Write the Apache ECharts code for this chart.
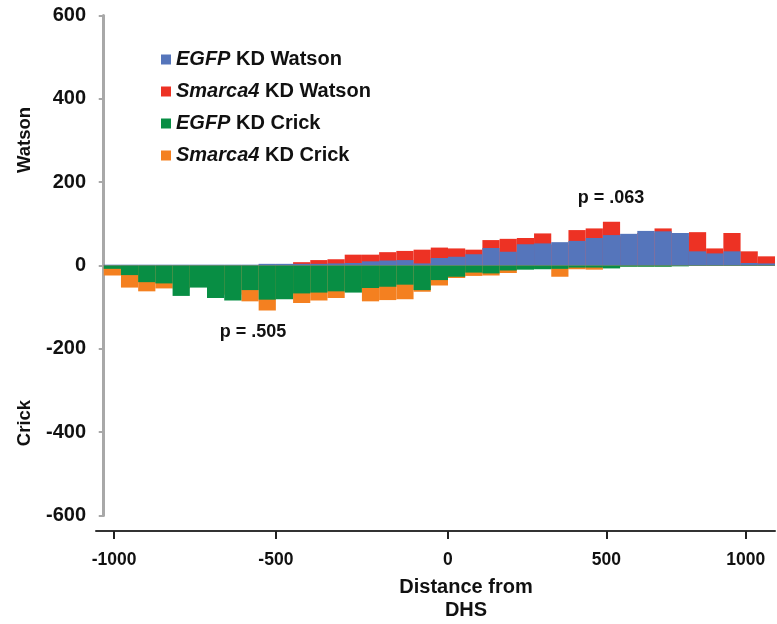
<!DOCTYPE html>
<html><head><meta charset="utf-8">
<script src="https://cdn.jsdelivr.net/npm/echarts@6/dist/echarts.min.js"></script>
<style>html,body{margin:0;padding:0;background:#fff}#c{width:777px;height:624px}</style>
</head><body><div id="c"></div>
<script>
// Bin index (0..38) along the distance axis; values per bin
const egfpWatson   = [2,2,2,2,2,2,2,2,2,4,4,4,4,5,6,10,12,13,5,18,21,27,42,33,51,53,56,59,66,73,76,83,82,78,34,29,34,6,5];
const smarcaWatson = [1,1,1,1,1,1,1,1,1,3,3,8,13,15,26,26,32,35,38,43,41,38,61,64,66,77,50,85,89,105,70,78,89,70,80,41,78,34,22];
const egfpCrick    = [-8,-23,-40,-43,-73,-53,-78,-84,-59,-82,-81,-67,-65,-62,-65,-54,-51,-46,-59,-35,-27,-17,-19,-12,-10,-9,-8,-5,-5,-7,-3,-3,-3,-2,-1,-1,-1,-1,-1];
const smarcaCrick  = [-24,-53,-62,-55,-55,-45,-60,-70,-86,-108,-70,-90,-84,-78,-55,-86,-83,-81,-63,-48,-30,-25,-24,-18,-7,-6,-27,-9,-10,-5,-2,-2,-2,-1,-1,-1,-1,-1,-1];

const seriesNames = ['EGFP KD Watson','Smarca4 KD Watson','EGFP KD Crick','Smarca4 KD Crick'];
const geneNames   = ['EGFP','Smarca4','EGFP','Smarca4'];
const xTickPos    = [0.6, 10, 20, 29.2, 37.3];
const xTickLabels = ['-1000','-500','0','500','1000'];
const yMin = -600, yMax = 600, yStep = 200;
const pLabels = ['p = .063','p = .505'];

const FONT = '"Liberation Sans", Arial, Helvetica, sans-serif';
const colors = ['#5575bb','#ed3224','#088e44','#f48020'];

const toData = arr => arr.map((v,i)=>[i+0.5, v]);
const allVals = [egfpWatson, smarcaWatson, egfpCrick, smarcaCrick];
const zOrder = [3,2,3,2];

const chart = echarts.init(document.getElementById('c'), null, {renderer:'canvas'});
chart.setOption({
  animation:false,
  backgroundColor:'#fff',
  color: colors,
  grid:{left:96, right:2, top:15.5, bottom:108.5, containLabel:false},
  legend:{
    orient:'vertical', left:161, top:48.5, padding:0,
    itemWidth:10, itemHeight:10, itemGap:10, icon:'rect',
    selectedMode:false,
    data: seriesNames,
    formatter: name => {
      const i = seriesNames.indexOf(name);
      const g = geneNames[i];
      return '{i|' + g + '}{n|' + name.slice(g.length) + '}';
    },
    textStyle:{
      fontFamily:FONT, fontWeight:'bold', fontSize:20, color:'#111', lineHeight:22,
      rich:{
        i:{fontFamily:FONT, fontWeight:'bold', fontStyle:'italic', fontSize:20, color:'#111', lineHeight:22},
        n:{fontFamily:FONT, fontWeight:'bold', fontSize:20, color:'#111', lineHeight:22}
      }
    }
  },
  xAxis:{
    type:'value', min:-0.45, max:39, offset:15.5,
    splitLine:{show:false},
    axisLine:{show:true, onZero:false, lineStyle:{color:'#333', width:2}},
    axisTick:{show:true, customValues:xTickPos, length:8, lineStyle:{color:'#222', width:2}},
    axisLabel:{
      customValues:xTickPos, margin:20,
      formatter: v => { const k = xTickPos.indexOf(v); return k>=0 ? xTickLabels[k] : ''; },
      fontFamily:FONT, fontWeight:'bold', fontSize:17.5, color:'#111'
    }
  },
  yAxis:{
    type:'value', min:yMin, max:yMax, interval:yStep,
    splitLine:{show:false},
    axisLine:{show:true, onZero:true, lineStyle:{color:'#a8a8a8', width:3}},
    axisTick:{show:true, length:5, lineStyle:{color:'#a8a8a8', width:2}},
    axisLabel:{margin:10, fontFamily:FONT, fontWeight:'bold', fontSize:20, color:'#111'}
  },
  graphic:[
    {type:'text', x:25, y:140, rotation:Math.PI/2, silent:true,
     style:{text:'Watson', font:'bold 18.5px '+FONT, fill:'#111', textAlign:'center', textVerticalAlign:'middle'}},
    {type:'text', x:25, y:423, rotation:Math.PI/2, silent:true,
     style:{text:'Crick', font:'bold 18.5px '+FONT, fill:'#111', textAlign:'center', textVerticalAlign:'middle'}},
    {type:'text', x:466, y:587, silent:true,
     style:{text:'Distance from', font:'bold 20px '+FONT, fill:'#111', textAlign:'center', textVerticalAlign:'middle'}},
    {type:'text', x:466, y:610.5, silent:true,
     style:{text:'DHS', font:'bold 20px '+FONT, fill:'#111', textAlign:'center', textVerticalAlign:'middle'}},
    {type:'text', x:611, y:198, silent:true,
     style:{text:pLabels[0], font:'bold 18px '+FONT, fill:'#111', textAlign:'center', textVerticalAlign:'middle'}},
    {type:'text', x:253, y:332, silent:true,
     style:{text:pLabels[1], font:'bold 18px '+FONT, fill:'#111', textAlign:'center', textVerticalAlign:'middle'}}
  ],
  series: seriesNames.map((n,k)=>({
    name:n, type:'bar', data:toData(allVals[k]),
    barWidth:'100%', barGap:'-100%', z:zOrder[k],
    itemStyle:{color:colors[k]}
  }))
});
</script></body></html>
